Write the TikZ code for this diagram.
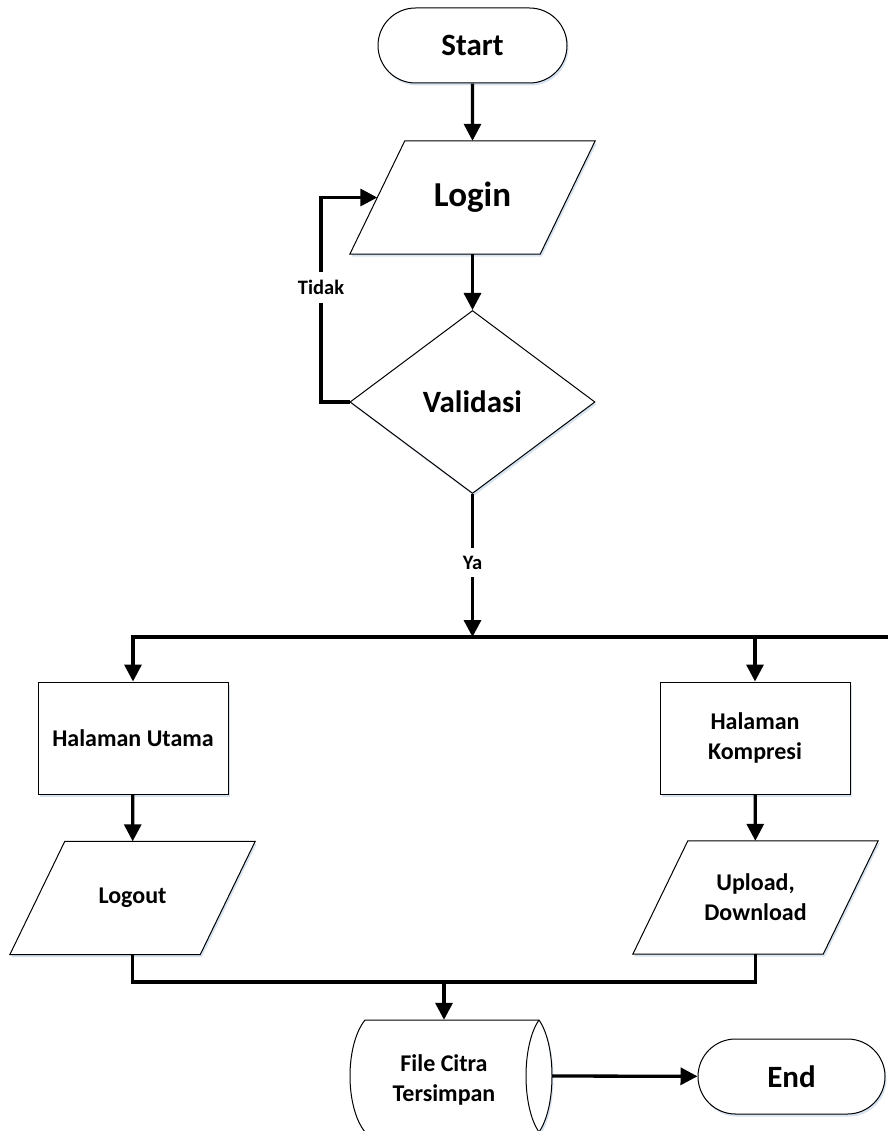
\documentclass[tikz,border=0pt]{standalone}
\usepackage{fontspec}
\setmainfont{Carlito}
\usetikzlibrary{shapes.geometric,shapes.misc,arrows.meta,shadows,calc}
\definecolor{shadowblue}{RGB}{205,220,238}
\pgfdeclarelayer{shapes}
\pgfsetlayers{shapes,main}

% slanted input/output outline around a rectangular node
\newcommand\ioframe[1]{%
  \path[shapeline] ($(#1.north west)+(27.5,0)$) -- ($(#1.north east)+(27.5,0)$)
    -- ($(#1.south east)+(-27.5,0)$) -- ($(#1.south west)+(-27.5,0)$) -- cycle;}

\begin{document}
\begin{tikzpicture}[x=1pt,y=-1pt,
  shadowed/.style={drop shadow={fill=shadowblue, opacity=0.8, shadow xshift=1.5pt, shadow yshift=-2.5pt}},
  shapeline/.style={draw=black, line width=1pt, fill=white, shadowed},
  terminal/.style={rounded rectangle, shapeline, minimum width=189pt, minimum height=75pt,
    inner sep=0pt, font=\bfseries\fontsize{31}{37}\selectfont},
  io/.style={rectangle, minimum width=190pt, minimum height=113pt, inner sep=0pt, align=center},
  decision/.style={diamond, shapeline, minimum width=245pt, minimum height=183pt,
    inner sep=0pt, font=\bfseries\fontsize{31}{37}\selectfont},
  process/.style={rectangle, shapeline, minimum width=190pt, minimum height=112pt,
    inner sep=0pt, align=center},
  boxtext/.style={font=\bfseries\fontsize{24}{30}\selectfont},
  flow/.style={line width=3.3pt, -{Triangle[length=17pt,width=17pt]}},
  link/.style={line width=3.3pt},
  lbl/.style={fill=white, font=\bfseries\fontsize{20.5}{24}\selectfont, inner xsep=2pt, inner ysep=8pt},
]
\useasboundingbox (0,0) rectangle (887,1131);

% main column
\node[terminal] (start) at (472.5,45.5) {Start};
\node[io, font=\bfseries\fontsize{35}{42}\selectfont] (login) at (472.5,197.5) {Login};
\node[decision] (valid) at (472.5,402) {Validasi};
\coordinate (split) at (472.5,637);
\coordinate (loop) at (321,402);
\coordinate (busR) at (892,637);

% two branches
\node[process, boxtext] (utama) at (133,738) {Halaman Utama};
\node[process, boxtext] (kompresi) at (755,738) {Halaman\\Kompresi};
\node[io, boxtext] (logout) at (132.5,898) {Logout};
\node[io, boxtext] (upload) at (755.5,897.5) {Upload,\\Download};
\coordinate (merge) at (444,982);

% stored data symbol
\node[boxtext, align=center, inner sep=0pt, minimum width=158pt, minimum height=120pt] (store) at (444,1080) {File Citra\\Tersimpan};
\coordinate (storeR) at (552,1076);
\node[terminal, minimum width=187pt] (end) at (791.5,1076.5) {End};

\begin{pgfonlayer}{shapes}
  \ioframe{login}
  \ioframe{logout}
  \ioframe{upload}
  \path[shapeline] (365,1020) -- (539,1020)
    .. controls (556.33,1045) and (556.33,1107) .. (539,1132)
    -- (365,1132)
    .. controls (345,1107) and (345,1045) .. (365,1020) -- cycle;
  \draw[line width=1pt] (539,1020) .. controls (521.67,1045) and (521.67,1107) .. (539,1132);
\end{pgfonlayer}

% connectors
\draw[flow] (start) -- (login);
\draw[flow] (login) -- (valid);
\draw[flow] (valid.west) -- (loop) |- node[lbl, pos=0.28] {Tidak} (login.west);
\draw[flow] (valid.south) -- node[lbl, pos=0.48] {Ya} (split);
\draw[link] (split) -- (busR);
\draw[flow] (split) -| (utama.north);
\draw[flow] (split) -| (kompresi.north);
\draw[flow] (utama) -- (logout);
\draw[flow] (kompresi) -- (upload);
\draw[link] (logout.south) |- (merge) -| (upload.south);
\draw[flow] (merge) -- (store.north);
\draw[flow] (storeR) -- (end);
\end{tikzpicture}
\end{document}
